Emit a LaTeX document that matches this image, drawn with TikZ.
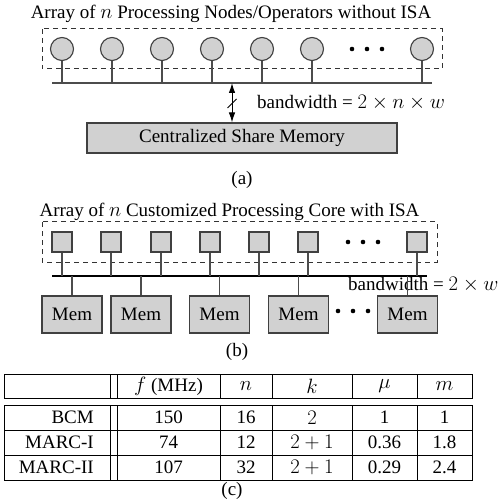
\RequirePackage{fix-cm}
\documentclass[tikz,border=0pt]{standalone}
\usepackage{fontspec}
\setmainfont{Liberation Serif}
\DeclareMathSizes{19}{20.74}{14.4}{10}
\usetikzlibrary{arrows.meta}
\begin{document}
\begin{tikzpicture}[x=1pt,y=-1pt,font=\fontsize{19}{23}\selectfont,
  pe/.style={circle,draw=black!75,fill=black!18,line width=1.1pt,minimum size=23pt,inner sep=0pt},
  core/.style={rectangle,draw=black!75,fill=black!18,line width=1.1pt,minimum size=20pt,inner sep=0pt},
  mem/.style={rectangle,draw=black!75,fill=black!18,line width=1.1pt,minimum width=60pt,minimum height=37pt,inner sep=0pt},
  stem/.style={black!70,line width=1.1pt},
  frame/.style={dashed,dash pattern=on 5pt off 4pt,black!80,line width=1pt},
  lbl/.style={inner sep=0pt}]
  \useasboundingbox (0,0) rectangle (502,502);
  \node[lbl] (titleA) at (231,14) {Array of $n$ Processing Nodes/Operators without ISA};
  \draw[frame] (42,29) rectangle (442,69);
  \foreach \x [count=\i] in {62,112,162,212,262,312,422}
    \node[pe] (c\i) at (\x,49) {};
  \foreach \x in {352,367,382} \fill (\x,49) circle (2.3);
  \coordinate (busAL) at (52,83);
  \coordinate (busAR) at (432,83);
  \draw[stem] (busAL) -- (busAR);
  \foreach \i in {1,...,7} \draw[stem] (c\i.south) -- (c\i.south |- busAL);
  \node[mem,minimum width=310pt,minimum height=30pt] (shm) at (242,138) {Centralized Share Memory};
  \coordinate (arrA) at (232,83);
  \draw[{Latex[length=10pt,width=6.5pt]}-{Latex[length=10pt,width=6.5pt]},line width=1pt] (arrA) -- (arrA |- shm.north);
  \draw[line width=1pt] (227.5,108) -- (236.5,99);
  \node[lbl,anchor=west] (bwA) at (257,103) {bandwidth = $2\times n\times w$};
  \node[lbl] (capA) at (242,180) {(a)};

  \node[lbl] (titleB) at (229.5,212) {Array of $n$ Customized Processing Core with ISA};
  \draw[frame] (42,222) rectangle (437,262);
  \foreach \x [count=\i] in {62,111,161,210,259,308,417}
    \node[core] (p\i) at (\x,242) {};
  \foreach \x in {348,363,378} \fill (\x,242) circle (2.3);
  \coordinate (busBL) at (52,276);
  \coordinate (busBR) at (427,276);
  \node[lbl,anchor=west] (bwB) at (348,285) {bandwidth = $2\times w$};
  \draw[line width=1.1pt] (busBL) -- (busBR);
  \foreach \i in {1,...,7} \draw[stem] (p\i.south) -- (p\i.south |- busBL);
  \foreach \x [count=\i] in {72,141,219.5,298.5,407.5}
    \node[mem] (m\i) at (\x,314.5) {Mem};
  \foreach \i in {1,...,5} \draw[stem] (m\i.north) -- (m\i.north |- busBL);
  \foreach \x in {338,353,368} \fill (\x,311) circle (2.3);
  \node[lbl] (capB) at (237,352) {(b)};

  \draw[line width=1pt] (4,374) rectangle (472,398);
  \draw[line width=1pt] (4,405) rectangle (472,480);
  \foreach \x in {110,117,220,272,352,417} {
    \draw[line width=1pt] (\x,374) -- (\x,398);
    \draw[line width=1pt] (\x,405) -- (\x,480);
  }
  \foreach \y in {430,455} \draw[line width=1pt] (4,\y) -- (472,\y);
  \foreach \x/\t [count=\j] in {168.5/{$f$ (MHz)},246/$n$,312/$k$,384.5/$\mu$,444.5/$m$}
    \node[lbl] (h\j) at (\x,386) {\t};
  \foreach \va/\vb/\vc/\vd/\ve/\vf [count=\r] in
      {BCM/150/16/$2$/1/1, MARC-I/74/12/$2+1$/0.36/1.8, MARC-II/107/32/$2+1$/0.29/2.4} {
    \node[lbl,anchor=east] (r\r a) at (94,392.5+25*\r) {\va};
    \node[lbl] (r\r b) at (168.5,392.5+25*\r) {\vb};
    \node[lbl] (r\r c) at (246,392.5+25*\r) {\vc};
    \node[lbl] (r\r d) at (312,392.5+25*\r) {\vd};
    \node[lbl] (r\r e) at (384.5,392.5+25*\r) {\ve};
    \node[lbl] (r\r f) at (444.5,392.5+25*\r) {\vf};
  }
  \node[lbl] (capC) at (232,491) {(c)};
\end{tikzpicture}
\end{document}
